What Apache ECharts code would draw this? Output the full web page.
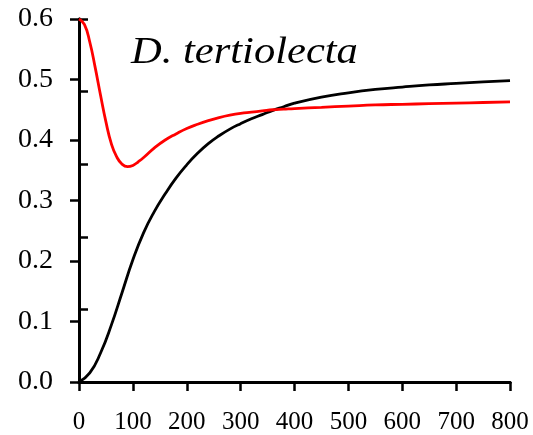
<!DOCTYPE html>
<html>
<head>
<meta charset="utf-8">
<script src="https://cdn.jsdelivr.net/npm/echarts@6/dist/echarts.min.js"></script>
<style>
  html, body { margin: 0; padding: 0; background: #fff; }
  #chart { width: 533px; height: 435px; }
</style>
</head>
<body>
<div id="chart"></div>
<script>
// time points (x) and the two curves
var blackT = [0, 20, 40, 60, 80, 100, 120, 140, 160, 180, 200, 220, 240, 260, 280, 300, 320, 340, 360, 380, 400, 450, 500, 550, 600, 650, 700, 750, 800];
var blackV = [0, 0.015, 0.048, 0.094, 0.148, 0.202, 0.247, 0.282, 0.311, 0.337, 0.359, 0.378, 0.394, 0.407, 0.418, 0.427, 0.435, 0.442, 0.449, 0.455, 0.461, 0.471, 0.478, 0.4835, 0.4875, 0.491, 0.4935, 0.496, 0.498];

var redT = [0, 10, 20, 30, 40, 50, 60, 70, 80, 90, 100, 110, 120, 140, 160, 180, 200, 220, 240, 260, 280, 300, 320, 340, 360, 380, 400, 450, 500, 550, 600, 650, 700, 750, 800];
var redV = [0.6, 0.591, 0.562, 0.52, 0.474, 0.43, 0.394, 0.372, 0.36, 0.356, 0.358, 0.364, 0.371, 0.387, 0.4, 0.41, 0.419, 0.426, 0.432, 0.437, 0.441, 0.444, 0.446, 0.448, 0.45, 0.451, 0.452, 0.454, 0.456, 0.458, 0.459, 0.46, 0.461, 0.462, 0.463];

var xTicks = { min: 0, max: 800, step: 100 };
var yTicks = { min: 0, max: 0.6, step: 0.1 };
var title = "D. tertiolecta";

function pairs(t, v) {
  var out = [];
  for (var i = 0; i < t.length; i++) out.push([t[i], v[i]]);
  return out;
}

var font = "'Liberation Serif', 'Times New Roman', serif";
var lineStyle = { color: "#000", width: 3 };
var tickStyle = { color: "#000", width: 2.5 };

var myChart = echarts.init(document.getElementById("chart"));

var option = {
  animation: false,
  backgroundColor: "#fff",
  graphic: [
    {
      type: "text",
      x: 131,
      y: 35,
      scaleX: 1.15,
      style: {
        text: title,
        fontFamily: font,
        fontStyle: "italic",
        fontSize: 37,
        fill: "#000",
        verticalAlign: "top"
      }
    }
  ],
  grid: { left: 79, right: 23, top: 19, bottom: 53 },
  xAxis: [
    {
      type: "value",
      position: "bottom",
      min: xTicks.min,
      max: xTicks.max,
      interval: xTicks.step,
      axisLine: { show: true, lineStyle: lineStyle },
      axisTick: { show: true, inside: false, length: 9, lineStyle: tickStyle },
      axisLabel: { margin: 28, fontFamily: font, fontSize: 25, color: "#000" },
      splitLine: { show: false }
    },
    {
      type: "value",
      position: "top",
      min: xTicks.min,
      max: xTicks.max,
      axisLine: { show: true, lineStyle: lineStyle },
      axisTick: { show: false },
      axisLabel: { show: false },
      splitLine: { show: false }
    }
  ],
  yAxis: [
    {
      type: "value",
      position: "left",
      min: yTicks.min,
      max: yTicks.max,
      interval: yTicks.step,
      axisLine: { show: true, lineStyle: lineStyle },
      axisTick: { show: true, inside: false, length: 9, lineStyle: tickStyle },
      axisLabel: {
        margin: 26,
        fontFamily: font,
        fontSize: 28,
        color: "#000",
        formatter: function (v) { return v.toFixed(1); }
      },
      splitLine: { show: false }
    },
    {
      type: "value",
      position: "right",
      min: 0,
      max: 5,
      interval: 1,
      axisLine: { show: true, lineStyle: lineStyle },
      axisTick: { show: true, inside: false, length: 9, lineStyle: tickStyle },
      axisLabel: { show: false },
      splitLine: { show: false }
    }
  ],
  series: [
    {
      type: "line",
      data: pairs(blackT, blackV),
      smooth: true,
      showSymbol: false,
      lineStyle: { color: "#000", width: 2.8 },
      itemStyle: { color: "#000" }
    },
    {
      type: "line",
      data: pairs(redT, redV),
      smooth: true,
      showSymbol: false,
      lineStyle: { color: "#ff0000", width: 2.8 },
      itemStyle: { color: "#ff0000" }
    }
  ]
};

myChart.setOption(option);
</script>
</body>
</html>
